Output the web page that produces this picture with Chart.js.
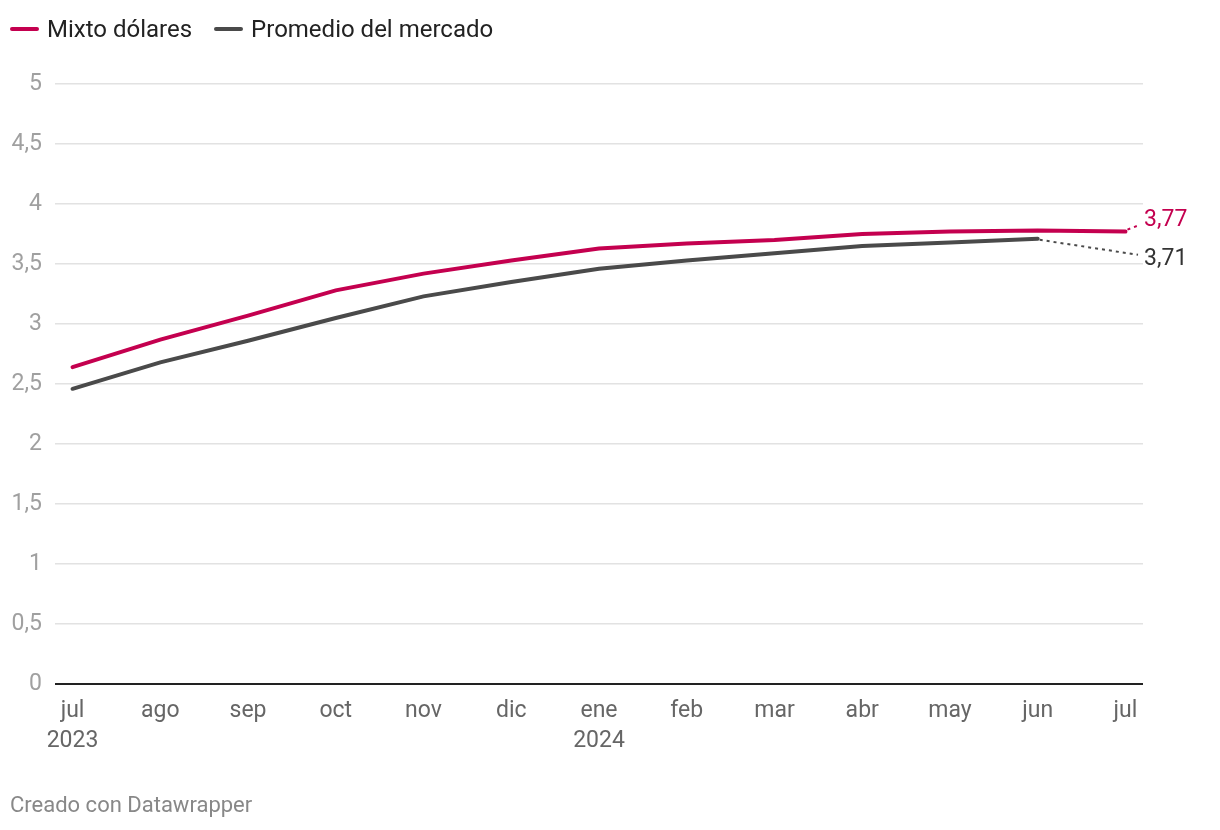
<!DOCTYPE html>
<html>
<head>
<meta charset="utf-8">
<script src="https://cdn.jsdelivr.net/npm/chart.js@4"></script>
<style>
  body { margin: 0; background: #fff; font-family: Roboto, sans-serif; }
  #wrap { position: relative; width: 1220px; height: 830px; }
  #chart { position: absolute; left: 0; top: 0; }
  .legend { position: absolute; top: 15px; left: 10px; font-size: 24px; color: #222; display: flex; }
  .legend span { display: flex; align-items: center; margin-right: 22px; }
  .legend i { display: inline-block; width: 29px; height: 4px; border-radius: 2px; margin-right: 8px; }
  .footer { position: absolute; left: 10px; top: 792px; font-size: 22px; color: #888; }
</style>
</head>
<body>
<div id="wrap">
  <canvas id="chart" width="1220" height="830"></canvas>
  <div class="legend">
    <span><i style="background:#c4004f"></i>Mixto dólares</span>
    <span><i style="background:#4a4a4a"></i>Promedio del mercado</span>
  </div>
  <div class="footer">Creado con Datawrapper</div>
</div>
<script>
const months = ["jul", "ago", "sep", "oct", "nov", "dic", "ene", "feb", "mar", "abr", "may", "jun", "jul"];
const years = ["2023", "", "", "", "", "", "2024", "", "", "", "", "", ""];
const mixto = [2.64, 2.87, 3.07, 3.28, 3.42, 3.53, 3.63, 3.67, 3.70, 3.75, 3.77, 3.78, 3.77];
const promedio = [2.46, 2.68, 2.86, 3.05, 3.23, 3.35, 3.46, 3.53, 3.59, 3.65, 3.68, 3.71, null];
const yTicks = [0, 0.5, 1, 1.5, 2, 2.5, 3, 3.5, 4, 4.5, 5];

const magenta = "#c4004f";
const grey = "#4a4a4a";

function fmt(v) {
  return String(v).replace(".", ",");
}

function toPoints(arr) {
  return arr.map((v, i) => ({ x: i, y: v }));
}

// end labels with dotted connectors, like the Datawrapper ones
const endLabels = {
  id: "endLabels",
  afterDatasetsDraw(chart) {
    const c = chart.ctx;
    const area = chart.chartArea;
    const items = [
      { ds: 0, idx: 12, color: magenta, dy: -11 },
      { ds: 1, idx: 11, color: grey, dy: 20 }
    ];
    c.save();
    c.font = "23px Roboto";
    c.textBaseline = "middle";
    items.forEach(it => {
      const pt = chart.getDatasetMeta(it.ds).data[it.idx];
      const val = chart.data.datasets[it.ds].data[it.idx].y;
      const lx = area.right + 1;
      const ly = pt.y + it.dy;
      c.strokeStyle = it.color;
      c.lineWidth = 2;
      c.setLineDash([3, 4]);
      c.beginPath();
      c.moveTo(pt.x + 2, pt.y + (it.dy < 0 ? -2 : 1));
      c.lineTo(lx - 6, ly + (it.dy < 0 ? 5 : -4));
      c.stroke();
      c.setLineDash([]);
      c.fillStyle = it.ds === 0 ? magenta : "#333";
      c.fillText(fmt(val), lx, ly);
    });
    c.restore();
  }
};

new Chart(document.getElementById("chart"), {
  type: "line",
  data: {
    datasets: [
      { label: "Mixto dólares", data: toPoints(mixto), borderColor: magenta, borderWidth: 4 },
      { label: "Promedio del mercado", data: toPoints(promedio), borderColor: grey, borderWidth: 4 }
    ]
  },
  options: {
    responsive: false,
    animation: false,
    layout: { padding: { left: 0, top: 84, right: 77, bottom: 66 } },
    elements: { point: { radius: 0 }, line: { tension: 0, borderCapStyle: "round" } },
    plugins: { legend: { display: false }, tooltip: { enabled: false } },
    scales: {
      x: {
        type: "linear",
        min: -0.2,
        max: 12.2,
        afterBuildTicks: s => { s.ticks = months.map((_, i) => ({ value: i })); },
        afterFit: s => { s.height = 80; },
        grid: { display: false },
        border: { display: false },
        ticks: {
          padding: 4,
          color: "#666",
          font: { family: "Roboto", size: 23, lineHeight: 1.3 },
          maxRotation: 0,
          autoSkip: false,
          callback: v => years[v] ? [months[v], years[v]] : months[v]
        }
      },
      y: {
        min: 0,
        max: 5,
        afterBuildTicks: s => { s.ticks = yTicks.map(v => ({ value: v })); },
        afterFit: s => { s.width = 55; },
        border: { display: false },
        grid: {
          drawTicks: false,
          color: ctx => ctx.tick && ctx.tick.value === 0 ? "#222" : "#e2e2e2",
          lineWidth: ctx => ctx.tick && ctx.tick.value === 0 ? 2 : 1.5
        },
        ticks: {
          padding: 13,
          color: "#a0a0a0",
          font: { family: "Roboto", size: 23 },
          callback: v => fmt(v)
        }
      }
    }
  },
  plugins: [endLabels]
});
</script>
</body>
</html>
